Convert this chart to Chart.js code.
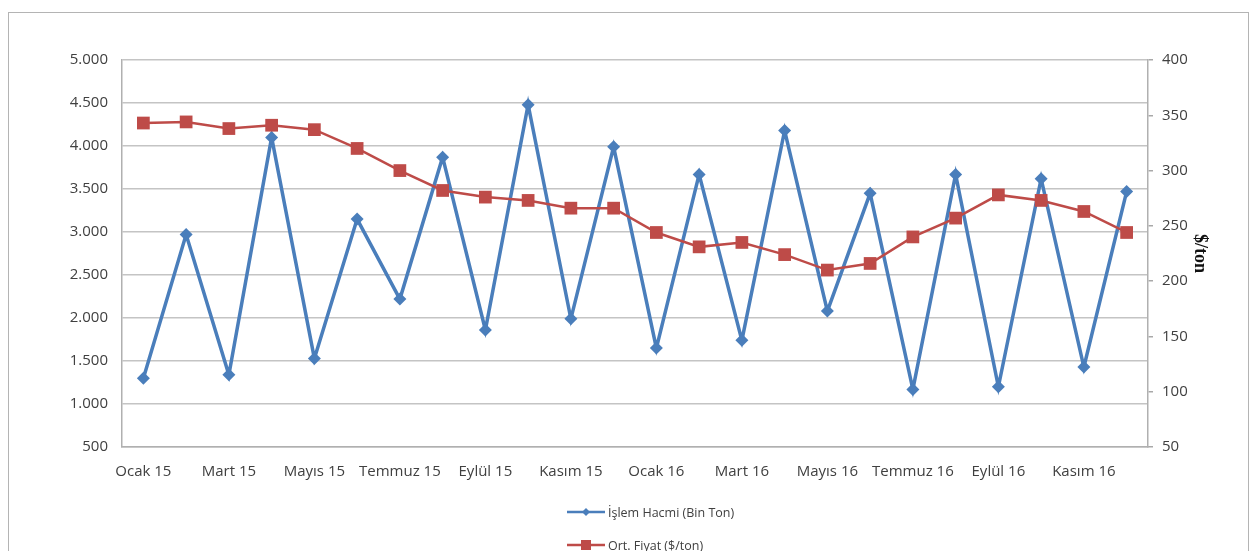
<!DOCTYPE html>
<html>
<head>
<meta charset="utf-8">
<script src="https://cdn.jsdelivr.net/npm/chart.js@4.4.1/dist/chart.umd.min.js"></script>
<style>
  html, body { margin: 0; padding: 0; background: #fff; overflow: hidden; }
  #frame { position: absolute; left: 8px; top: 12px; width: 1241px; height: 600px; border: 1px solid #b4b4b4; box-sizing: border-box; }
  #wrap { position: absolute; left: 0; top: 0; width: 1254px; height: 551px; }
</style>
</head>
<body>
<div id="frame"></div>
<div id="wrap"><canvas id="chart" width="1254" height="551"></canvas></div>
<script>
/* ---------- data ---------- */
const months = [
  "Ocak 15", "Şubat 15", "Mart 15", "Nisan 15", "Mayıs 15", "Haziran 15",
  "Temmuz 15", "Ağustos 15", "Eylül 15", "Ekim 15", "Kasım 15", "Aralık 15",
  "Ocak 16", "Şubat 16", "Mart 16", "Nisan 16", "Mayıs 16", "Haziran 16",
  "Temmuz 16", "Ağustos 16", "Eylül 16", "Ekim 16", "Kasım 16", "Aralık 16"
];
const islemHacmi = [
  1300, 2970, 1340, 4100, 1530, 3150, 2220, 3870, 1860, 4480, 1990, 3990,
  1650, 3670, 1740, 4180, 2080, 3450, 1170, 3670, 1200, 3620, 1430, 3470
];
const ortFiyat = [
  343, 344, 338, 341, 337, 320, 300, 282, 276, 273, 266, 266,
  244, 231, 235, 224, 210, 216, 240, 257, 278, 273, 263, 244
];
const seriesNames = ["İşlem Hacmi (Bin Ton)", "Ort. Fiyat ($/ton)"];

const FONT = "'Open Sans', sans-serif";
const TEXT = "#404040";
const BLUE = "#4a7ebb";
const RED = "#be4b48";

/* ---------- legend drawn vertically under the plot ---------- */
const stackedLegend = {
  id: "stackedLegend",
  afterDraw(chart) {
    const ctx = chart.ctx;
    const x0 = 567, rows = [512, 545];
    ctx.save();
    chart.data.datasets.forEach((ds, i) => {
      const y = rows[i];
      ctx.strokeStyle = ds.borderColor;
      ctx.lineWidth = 2.5;
      ctx.beginPath();
      ctx.moveTo(x0, y);
      ctx.lineTo(x0 + 38, y);
      ctx.stroke();
      ctx.fillStyle = ds.borderColor;
      if (ds.pointStyle === "rect") {
        ctx.fillRect(x0 + 19 - 5, y - 5, 10, 10);
      } else {
        ctx.beginPath();
        ctx.moveTo(x0 + 19, y - 4);
        ctx.lineTo(x0 + 23, y);
        ctx.lineTo(x0 + 19, y + 4);
        ctx.lineTo(x0 + 15, y);
        ctx.closePath();
        ctx.fill();
      }
      ctx.fillStyle = TEXT;
      ctx.font = "12.5px " + FONT;
      ctx.textBaseline = "middle";
      ctx.textAlign = "left";
      ctx.fillText(ds.label, x0 + 41, y + 1);
    });
    ctx.restore();
  }
};

new Chart(document.getElementById("chart"), {
  type: "line",
  data: {
    labels: months,
    datasets: [
      {
        label: seriesNames[0],
        data: islemHacmi,
        yAxisID: "y",
        borderColor: BLUE,
        backgroundColor: BLUE,
        borderWidth: 3.5,
        pointStyle: "rectRot",
        pointRadius: 6.5,
        pointBorderWidth: 0,
        tension: 0,
        order: 2,
      },
      {
        label: seriesNames[1],
        data: ortFiyat,
        yAxisID: "y1",
        borderColor: RED,
        backgroundColor: RED,
        borderWidth: 2.5,
        pointStyle: "rect",
        pointRadius: 9,
        pointBorderWidth: 0,
        tension: 0,
        order: 1,
      },
    ],
  },
  options: {
    responsive: false,
    animation: false,
    layout: { padding: { top: 60, right: 30, bottom: 0, left: 0 } },
    plugins: { legend: { display: false }, tooltip: { enabled: false } },
    scales: {
      x: {
        offset: true,
        grid: { display: false },
        border: { display: true, color: "#b0b0b0", width: 1.5 },
        ticks: {
          autoSkip: false,
          maxRotation: 0,
          padding: 8,
          color: TEXT,
          font: { family: FONT, size: 15 },
          callback: (v, i) => (i % 2 === 0 ? months[i] : ""),
        },
        afterFit: s => { s.height = 104; },
      },
      y: {
        position: "left",
        min: 500,
        max: 5000,
        ticks: {
          stepSize: 500,
          padding: 14,
          color: TEXT,
          font: { family: FONT, size: 15 },
          callback: v => v.toLocaleString("de-DE"),
        },
        grid: { color: "#c4c4c4", lineWidth: 1.5, drawTicks: false },
        border: { display: true, color: "#b0b0b0", width: 1.5 },
        afterFit: s => { s.width = 122; },
      },
      y1: {
        position: "right",
        min: 50,
        max: 400,
        ticks: {
          stepSize: 50,
          padding: 9,
          color: TEXT,
          font: { family: FONT, size: 15 },
        },
        grid: { drawOnChartArea: false, drawTicks: true, tickLength: 5, color: "#a8a8a8", lineWidth: 1.5 },
        border: { display: true, color: "#b0b0b0", width: 1.5 },
        title: {
          display: true,
          text: "$/ton",
          color: "#111",
          padding: { top: 14, bottom: 0 },
          font: { family: "'Liberation Serif', serif", size: 18, weight: "bold" },
        },
        afterFit: s => { s.width = 76; },
      },
    },
  },
  plugins: [stackedLegend],
});
</script>
</body>
</html>
